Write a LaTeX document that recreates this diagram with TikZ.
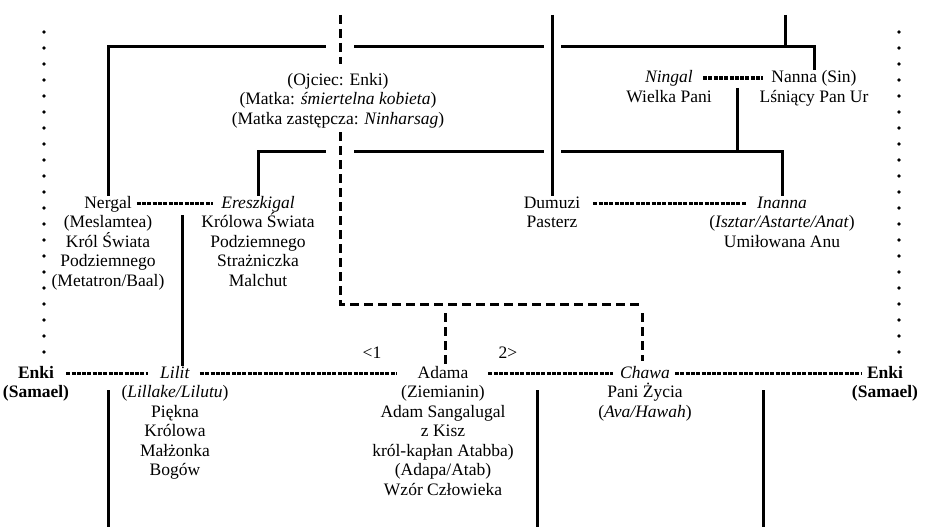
\documentclass[tikz,border=0pt]{standalone}
\usepackage{fontspec}
\setmainfont{Liberation Serif}
\usetikzlibrary{positioning, calc}
\newcommand{\up}{\rule{0pt}{16pt}}
\tikzset{
  who/.style  = {inner sep=0pt, anchor=base, font=\fontsize{17.5}{19.5}\selectfont, text height=12pt, text depth=3pt},
  info/.style = {inner sep=0pt, align=center, font=\fontsize{17.5}{19.5}\selectfont},
  kin/.style  = {line width=3pt},
  hint/.style = {line width=3pt, dash pattern=on 9pt off 5pt},
  wed/.style  = {line width=3.2pt, dash pattern=on 4pt off 1.3pt},
  edge/.style = {line width=3.6pt, line cap=round, dash pattern=on 0pt off 16pt},
  hop/.style  = {preaction={draw=white, solid, line width=#1}}
}

\begin{document}
\begin{tikzpicture}[x=1pt, y=-1pt, node distance=3.5pt]
\useasboundingbox (0,0) rectangle (932,527);

% Parents of Adama
\node[info, anchor=north] (ojciec) at (338,69) {\up(Ojciec: Enki)\\(Matka: \textit{śmiertelna kobieta})\\(Matka zastępcza: \textit{Ninharsag})};

% Row 1 (Ningal & Nanna)
\node[who] (ningal) at (669,82.5) {\textit{Ningal}};
\node[info, below=of ningal.base] (ningalD) {\up Wielka Pani};
\node[who] (nanna)  at (814,82.5) {Nanna (Sin)};
\node[info, below=of nanna.base] (nannaD) {\up Lśniący Pan Ur};

% Row 2 (left -> right)
\node[who] (nergal) at (108,208) {Nergal};
\node[info, below=of nergal.base] (nergalD) {\up(Meslamtea)\\Król Świata\\Podziemnego\\(Metatron/Baal)};
\node[who] (ereszkigal) at (258,208) {\textit{Ereszkigal}};
\node[info, below=of ereszkigal.base] (ereszkigalD) {\up Królowa Świata\\Podziemnego\\Strażniczka\\Malchut};
\node[who] (dumuzi) at (552,208) {Dumuzi};
\node[info, below=of dumuzi.base] (dumuziD) {\up Pasterz};
\node[who] (inanna) at (782,208) {\textit{Inanna}};
\node[info, below=of inanna.base] (inannaD) {\up(\textit{Isztar/Astarte/Anat})\\Umiłowana Anu};

% Row 3 (left -> right)
\node[who, font=\fontsize{17.5}{19.5}\selectfont\bfseries] (enkiL) at (36,378) {Enki};
\node[info, below=of enkiL.base, font=\fontsize{17.5}{19.5}\selectfont\bfseries] (enkiLD) {\up(Samael)};
\node[who] (lilit) at (175,378) {\textit{Lilit}};
\node[info, below=of lilit.base] (lilitD) {\up(\textit{Lillake/Lilutu})\\Piękna\\Królowa\\Małżonka\\Bogów};
\node[who] (adama) at (443,378) {Adama};
\node[info, below=of adama.base] (adamaD) {\up(Ziemianin)\\Adam Sangalugal\\z Kisz\\król-kapłan Atabba)\\(Adapa/Atab)\\Wzór Człowieka};
\node[who] (chawa) at (645,378) {\textit{Chawa}};
\node[info, below=of chawa.base] (chawaD) {\up Pani Życia\\(\textit{Ava/Hawah})};
\node[who, font=\fontsize{17.5}{19.5}\selectfont\bfseries] (enkiR) at (885,378) {Enki};
\node[info, below=of enkiR.base, font=\fontsize{17.5}{19.5}\selectfont\bfseries] (enkiRD) {\up(Samael)};

\node[who] (first)  at (372,358) {<1};
\node[who] (second) at (508,358) {2>};

% Enki on both margins
\coordinate (dotL) at (44,32);
\coordinate (dotR) at (899,32);
\draw[edge, shorten >=10pt] (dotL) -- (dotL |- enkiL.north);
\draw[edge, shorten >=10pt] (dotR) -- (dotR |- enkiR.north);

% Top bar: Nergal ... Nanna
\coordinate (anuTop) at (785,15);
\coordinate (anuBar) at (785,47);
\draw[kin] (nergal.north) |- (anuBar) -| (nanna.north);
\draw[kin] (anuTop) -- (anuBar);

% Middle bar: Ereszkigal ... Inanna, from Ningal & Nanna
\coordinate (sinWed) at (737,88);
\coordinate (sinBar) at (737,151);
\draw[kin] (ereszkigal.north) |- (sinBar) -| (inanna.north);
\draw[kin] (sinWed) -- (sinBar);

% Dumuzi from above, over both bars
\coordinate (dumTop) at (552,15);
\draw[kin, hop=17pt] (dumTop) -- (dumuzi.north);

% Enki's line down to Adama and Chawa
\coordinate (enkiTop) at (340,15);
\coordinate (splitL) at (340,304);
\coordinate (splitR) at (642,304);
\draw[hint, hop=28pt, shorten >=5pt] (enkiTop) -- (enkiTop |- ojciec.north);
\draw[hint, hop=28pt, shorten <=4pt] (enkiTop |- ojciec.south) -- (splitL) -- (splitR);
\coordinate (dropA) at (445,313);
\coordinate (dropC) at (642,313);
\draw[hint] (dropA) -- (dropA |- adama.north);
\draw[hint, shorten >=5pt] (dropC) -- (dropC |- chawa.north);

% Lilit from Nergal & Ereszkigal
\coordinate (nerWed) at (182,215);
\draw[kin] (nerWed) -- (nerWed |- lilit.north);

% Marriages
\draw[wed, shorten <=5pt, shorten >=8pt] (nergal) -- (ereszkigal);
\draw[wed, shorten <=10pt, shorten >=8pt] (ningal) -- (nanna);
\draw[wed, shorten <=13pt, shorten >=10pt] (dumuzi) -- (inanna);
\draw[wed, shorten <=12pt, shorten >=12pt] (enkiL) -- (lilit);
\draw[wed, shorten <=10pt, shorten >=21pt] (lilit) -- (adama);
\draw[wed, shorten <=20pt, shorten >=7pt] (adama) -- (chawa);
\draw[wed, shorten <=5pt, shorten >=5pt] (chawa) -- (enkiR);

% Children, down to the page edge
\coordinate (bottom) at (0,527);
\coordinate (lilKids) at (108,390);
\coordinate (adaKids) at (537,390);
\coordinate (chaKids) at (763,390);
\draw[kin] (lilKids) -- (lilKids |- bottom);
\draw[kin] (adaKids) -- (adaKids |- bottom);
\draw[kin] (chaKids) -- (chaKids |- bottom);

\end{tikzpicture}
\end{document}
